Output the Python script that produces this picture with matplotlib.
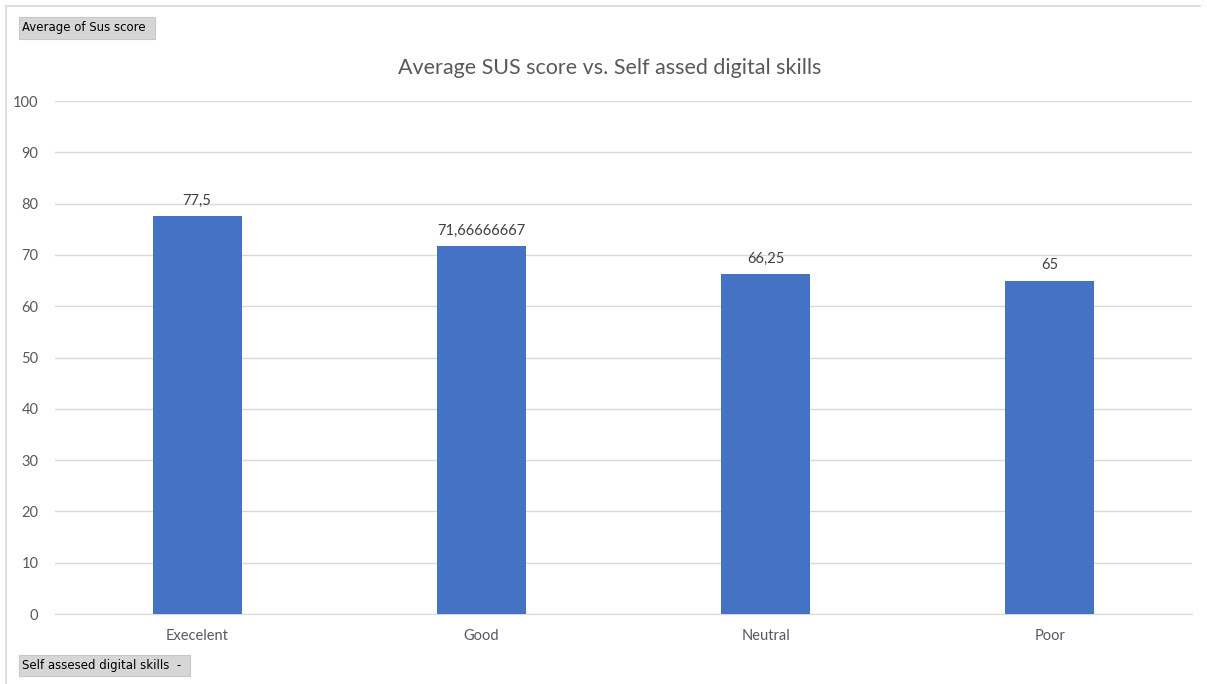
import matplotlib.pyplot as plt
from matplotlib.patches import Rectangle

# data
categories = ['Execelent', 'Good', 'Neutral', 'Poor']
sus_scores = [77.5, 71.66666667, 66.25, 65]
y_ticks = list(range(0, 101, 10))

plt.rcParams['font.family'] = ['Lato', 'DejaVu Sans']

fig = plt.figure(figsize=(12.07, 6.84), dpi=100)
ax = fig.add_axes([0.0456, 0.1023, 0.942, 0.75])

x = range(len(categories))
bars = ax.bar(x, sus_scores, width=0.313, color='#4472C4', zorder=3)

for xi, v in zip(x, sus_scores):
    label = f"{v:.10g}".replace('.', ',')
    ax.annotate(label, (xi, v), xytext=(0, 6), textcoords='offset points',
                ha='center', va='bottom', fontsize=10.5, color='#404040')

ax.set_xlim(-0.5, len(categories) - 0.5)
ax.set_ylim(0, 100)
ax.set_yticks(y_ticks)
ax.set_xticks(list(x))
ax.set_xticklabels(categories)
ax.tick_params(axis='both', length=0, colors='#595959', labelsize=10.5)
ax.tick_params(axis='y', pad=12)
ax.tick_params(axis='x', pad=11)
ax.grid(axis='y', color='#d9d9d9', linewidth=1, zorder=0)
for side in ['top', 'right', 'left']:
    ax.spines[side].set_visible(False)
ax.spines['bottom'].set_color('#d9d9d9')

fig.text(0.505, 1 - 68 / 684, 'Average SUS score vs. Self assed digital skills',
         ha='center', va='center', fontsize=15.5, color='#595959')

# chart frame
fig.add_artist(plt.Line2D([6 / 1207, 1200 / 1207], [1 - 6 / 684, 1 - 6 / 684],
                          color='#d9d9d9', linewidth=1.2, transform=fig.transFigure))
fig.add_artist(plt.Line2D([6 / 1207, 6 / 1207], [0, 1 - 6 / 684],
                          color='#d9d9d9', linewidth=1.2, transform=fig.transFigure))

# pivot field buttons
def field_button(x0, y0, w, h, text):
    fig.add_artist(Rectangle((x0 / 1207, 1 - (y0 + h) / 684), w / 1207, h / 684,
                             transform=fig.transFigure, facecolor='#d6d6d6',
                             edgecolor='#c8c8c8', linewidth=0.8))
    fig.text((x0 + 3) / 1207, 1 - (y0 + h / 2) / 684, text, ha='left', va='center',
             fontsize=8.5, color='black', family=['DejaVu Sans'])

field_button(19, 17, 136, 22, 'Average of Sus score')
field_button(19, 655, 171, 21, 'Self assesed digital skills  -')

fig.savefig('out.png', dpi=100)
